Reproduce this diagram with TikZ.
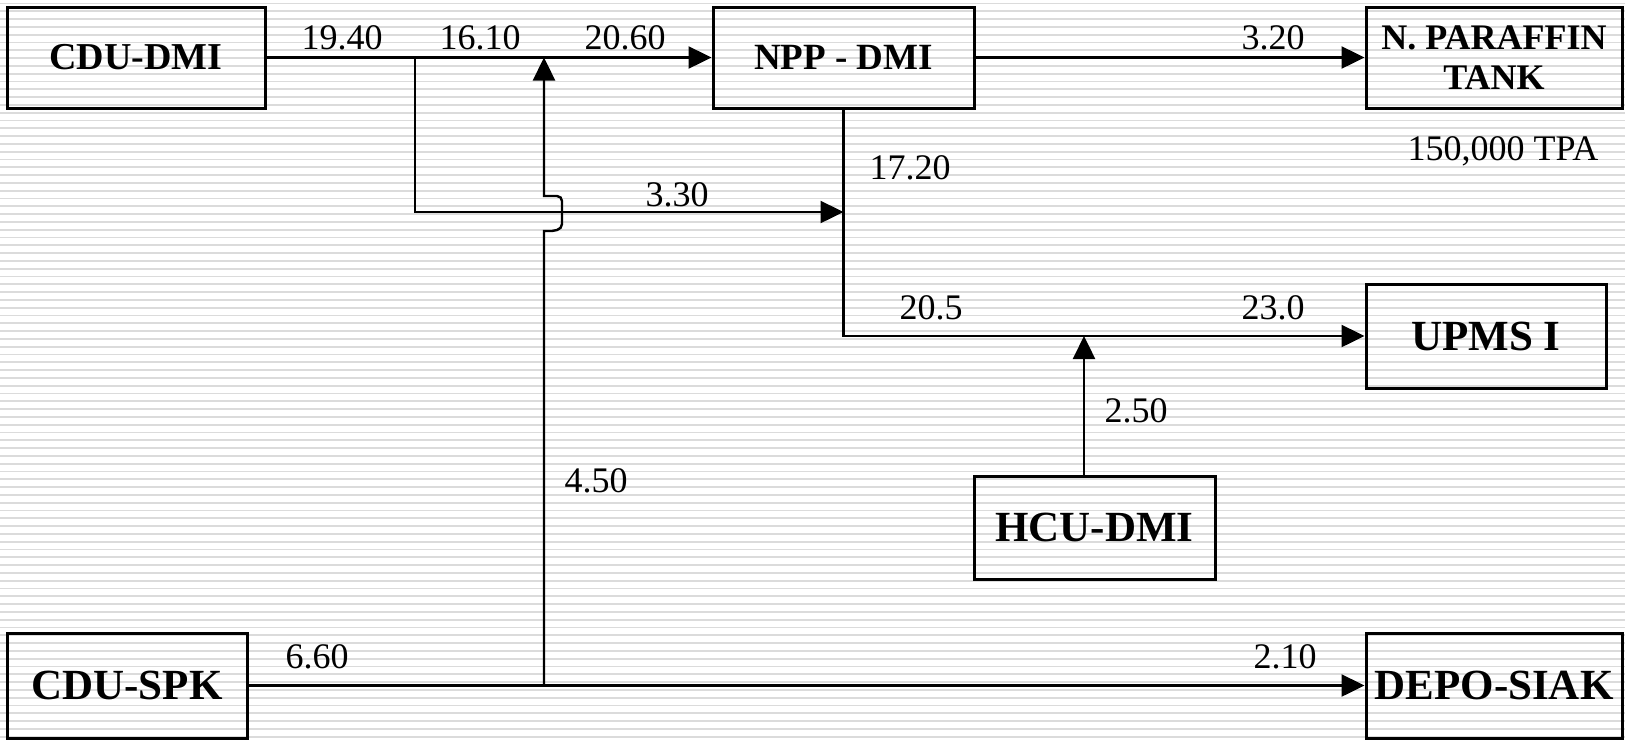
\documentclass[tikz,border=0pt]{standalone}
\usepackage{fontspec}
\setmainfont{Liberation Serif}
\usetikzlibrary{arrows.meta}

\begin{document}
\begin{tikzpicture}[x=0.5pt, y=-0.5pt,
        unit/.style={draw, line width=1.5pt, rectangle, align=center, inner sep=2pt, font=\bfseries\fontsize{21.5}{24}\selectfont},
        flow/.style={draw, line width=1.2pt, -{Triangle[length=11.5pt, width=11pt]}},
        val/.style={inner sep=0pt, font=\fontsize{18}{20}\selectfont},
        stripe/.style={draw=black!14, line width=0.85pt}]
    % striped background
    \useasboundingbox (0,0) rectangle (1625,741);
    \foreach \y in {3.5,11.3,...,741} \draw[stripe] (0,\y) -- (1625,\y);

    % units
    \node [unit, minimum width=129pt, minimum height=50.5pt, font=\bfseries\fontsize{19}{22}\selectfont] (cdudmi) at (136,57.5) {CDU-DMI};
    \node [unit, minimum width=130.5pt, minimum height=50.5pt, font=\bfseries\fontsize{18.5}{22}\selectfont] (nppdmi) at (843.5,57.5) {NPP - DMI};
    \node [unit, minimum width=128pt, minimum height=50.5pt, font=\bfseries\fontsize{18}{20.3}\selectfont] (paraffin) at (1494,57.5) {N. PARAFFIN\\TANK};
    \node [unit, minimum width=120pt, minimum height=52pt] (upms) at (1486,336) {UPMS I};
    \node [unit, minimum width=120.5pt, minimum height=51.5pt] (hcudmi) at (1094.5,527.5) {HCU-DMI};
    \node [unit, minimum width=120pt, minimum height=52.5pt] (cduspk) at (127,685.5) {CDU-SPK};
    \node [unit, minimum width=128pt, minimum height=52.5pt] (deposiak) at (1494,685.5) {DEPO-SIAK};

    % junctions
    \coordinate (b1) at (415,57.5);
    \coordinate (j1) at (843.5,212);
    \coordinate (j2) at (1084,336);
    \coordinate (h1) at (1084,476);
    \coordinate (s1) at (544,685.5);
    \coordinate (s2) at (544,57.5);

    % flows
    \draw[flow] (cdudmi.east) -- (nppdmi.west);
    \draw[flow] (nppdmi.east) -- (paraffin.west);
    \draw[flow] (b1) |- (j1);
    \draw[flow] (nppdmi.south) |- (upms.west);
    \draw[flow] (h1) -- (j2);
    \draw[flow] (cduspk.east) -- (deposiak.west);
    \draw[flow] (s1) -- (544,231) -- (552,231) [rounded corners=2.5pt] -- (562,229) -- (562,196) -- (552,196) [sharp corners] -- (544,196) -- (s2);

    % flow rates
    \node [val] (v1) at (342,38) {19.40};
    \node [val] (v2) at (480,38) {16.10};
    \node [val] (v3) at (625,38) {20.60};
    \node [val] (v4) at (1273,38) {3.20};
    \node [val] (tpa) at (1503,151) {150,000 TPA};
    \node [val] (v5) at (910,168) {17.20};
    \node [val] (v6) at (677,195) {3.30};
    \node [val] (v7) at (931,308) {20.5};
    \node [val] (v8) at (1273,308) {23.0};
    \node [val] (v9) at (1136,411) {2.50};
    \node [val] (v10) at (596,481) {4.50};
    \node [val] (v11) at (317,657) {6.60};
    \node [val] (v12) at (1285,657) {2.10};
\end{tikzpicture}
\end{document}
